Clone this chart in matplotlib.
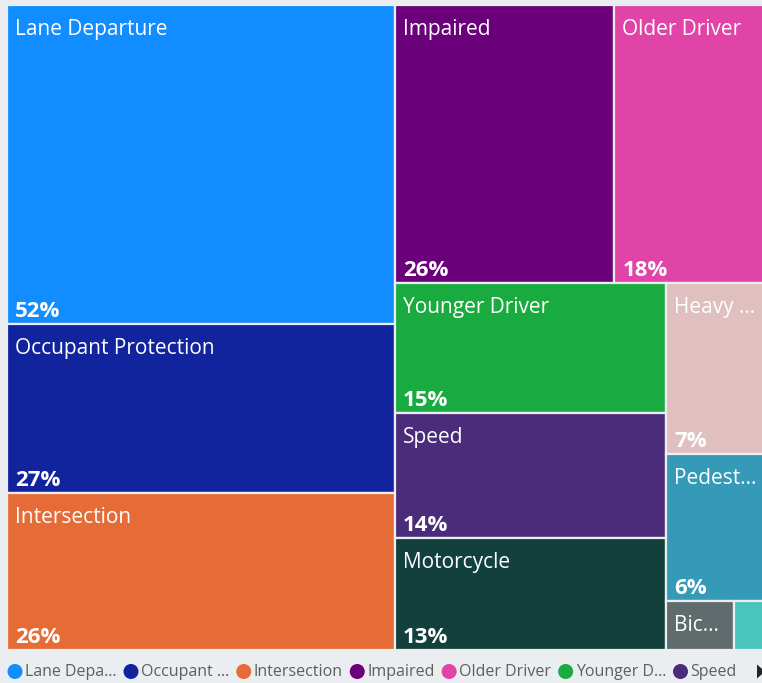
import matplotlib
matplotlib.use("Agg")
import matplotlib.pyplot as plt
from matplotlib.patches import Rectangle, Circle, Polygon

# ---------------- data ----------------
categories = ["Lane Departure", "Occupant Protection", "Intersection", "Impaired",
              "Older Driver", "Younger Driver", "Speed", "Motorcycle",
              "Heavy Vehicle", "Pedestrian", "Bicycle", "Work Zone"]
values = [52, 27.4, 25.6, 25.6, 17.9, 14.8, 14.3, 12.7, 7.3, 6.3, 1.4, 0.7]
colors = ["#118DFF", "#12239E", "#E66C37", "#6B007B", "#E044A7", "#1AAB40",
          "#4B2C7A", "#11403D", "#DFBFBF", "#3599B8", "#5F6B6D", "#4AC5BB"]

BG = "#EAEEF1"
FONT = "Open Sans"
W_PX, H_PX = 762, 683
TM_LEFT, TM_TOP, TM_W, TM_H = 7, 5, 761, 645


def squarify(vals, x0, y0, x1, y1, ratio=(1 + 5 ** 0.5) / 2):
    """d3-style squarified treemap layout (golden ratio)."""
    n = len(vals)
    rects = [None] * n
    i0 = i1 = 0
    value = float(sum(vals))
    while i0 < n:
        dx, dy = x1 - x0, y1 - y0
        sumv = vals[i1]
        i1 += 1
        minv = maxv = sumv
        alpha = max(dy / dx, dx / dy) / (value * ratio)
        beta = sumv * sumv * alpha
        minr = max(maxv / beta, beta / minv)
        while i1 < n:
            nv = vals[i1]
            s = sumv + nv
            mn, mx = min(minv, nv), max(maxv, nv)
            beta = s * s * alpha
            nr = max(mx / beta, beta / mn)
            if nr > minr:
                break
            sumv, minv, maxv, minr = s, mn, mx, nr
            i1 += 1
        row = range(i0, i1)
        if dx < dy:
            ny = y0 + dy * sumv / value
            xx = x0
            for k in row:
                w = dx * vals[k] / sumv
                rects[k] = (xx, y0, w, ny - y0)
                xx += w
            y0 = ny
        else:
            nx = x0 + dx * sumv / value
            yy = y0
            for k in row:
                h = dy * vals[k] / sumv
                rects[k] = (x0, yy, nx - x0, h)
                yy += h
            x0 = nx
        value -= sumv
        i0 = i1
    return rects


fig = plt.figure(figsize=(W_PX / 100, H_PX / 100), dpi=100, facecolor=BG)
ax = fig.add_axes([TM_LEFT / W_PX, 1 - (TM_TOP + TM_H) / H_PX, TM_W / W_PX, TM_H / H_PX])
ax.set_xlim(0, TM_W)
ax.set_ylim(TM_H, 0)
ax.axis("off")

renderer = fig.canvas.get_renderer()


def text_width(s, **kw):
    t = fig.text(0, 0, s, **kw)
    w = t.get_window_extent(renderer=renderer).width
    t.remove()
    return w


def truncate(s, maxw, **kw):
    if text_width(s, **kw) <= maxw:
        return s
    for k in range(len(s) - 1, 0, -1):
        cand = s[:k] + "..."
        if text_width(cand, **kw) <= maxw:
            return cand
    return None


name_kw = dict(family=FONT, fontsize=15)
pct_kw = dict(family=FONT, fontsize=16, fontweight="bold")

rects = squarify(values, 0, 0, TM_W, TM_H)
for cat, v, c, (x, y, w, h) in zip(categories, values, colors, rects):
    ax.add_patch(Rectangle((x, y), w, h, facecolor=c, edgecolor=BG, linewidth=1.6))
    label = truncate(cat, w - 14, **name_kw)
    if label:
        ax.text(x + 8, y + 30, label, color="white", va="baseline", ha="left", **name_kw)
    if h > 70 and label:
        ax.text(x + 8, y + h - 7, f"{v:.0f}%", color="white", va="baseline", ha="left", **pct_kw)

# ---------------- legend ----------------
lax = fig.add_axes([0, 0, 1, 1])
lax.set_xlim(0, W_PX)
lax.set_ylim(H_PX, 0)
lax.axis("off")
leg_kw = dict(family=FONT, fontsize=11.5)
lx = 7
ly = 671.5
for cat, c in zip(categories, colors):
    lab = truncate(cat, 93, **leg_kw)
    tw = text_width(lab, **leg_kw)
    if lx + 18 + tw > 752:
        break
    lax.add_patch(Circle((lx + 8, ly), 7.5, facecolor=c, edgecolor="none"))
    lax.text(lx + 18, ly + 0.5, lab, color="#605E5C", va="center", ha="left", **leg_kw)
    lx += 18 + tw + 6.5
lax.add_patch(Polygon([(757, ly - 7), (757, ly + 7), (765, ly)], closed=True,
                      facecolor="#252423", edgecolor="none"))

fig.savefig("out.png", dpi=100, facecolor=BG)
